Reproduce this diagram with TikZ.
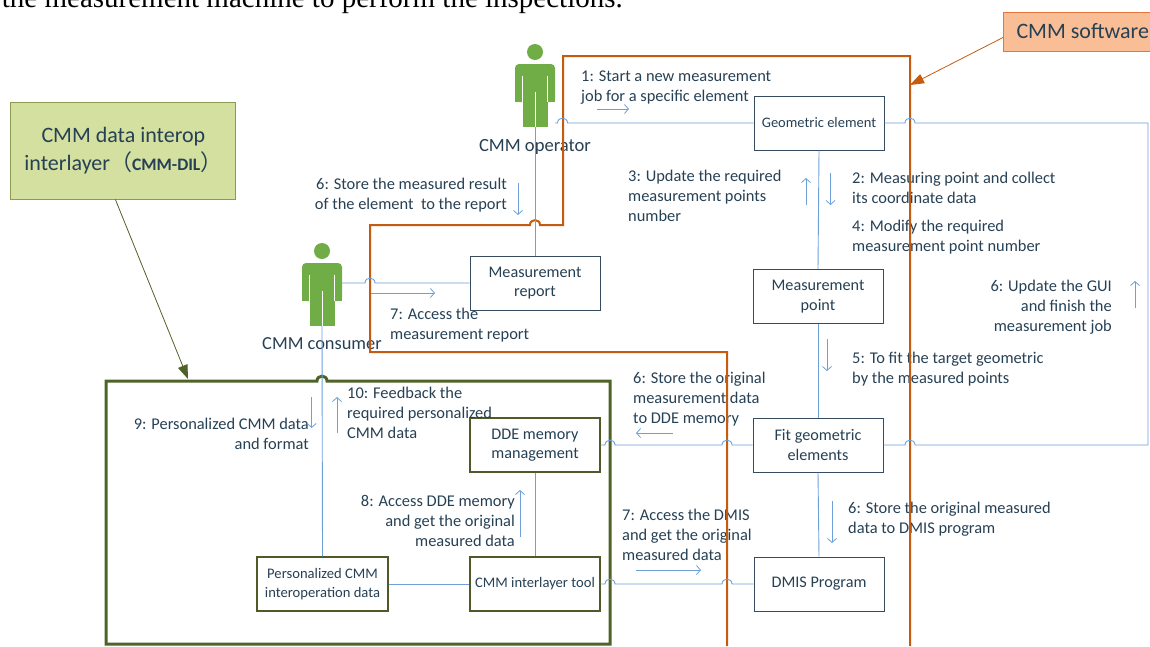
\documentclass[tikz,border=0pt]{standalone}
\usepackage{fontspec}
\setmainfont{Carlito}
\newfontfamily\BodyFont{Liberation Serif}
\newfontfamily\CjkFont{Noto Sans CJK SC}
\usepackage{tikz}
\usetikzlibrary{arrows.meta}
\usepackage{xcolor}
\definecolor{ColText}{RGB}{38,64,84}
\definecolor{ColLink}{RGB}{110,160,215}
\definecolor{ColBox}{RGB}{55,75,95}
\definecolor{ColOliveBox}{RGB}{80,90,40}
\definecolor{ColOlive}{RGB}{79,98,40}
\definecolor{ColOrange}{RGB}{197,90,17}
\definecolor{ColFig}{RGB}{112,173,71}
\definecolor{ColDil}{RGB}{211,224,160}
\definecolor{ColDilLine}{RGB}{140,155,80}
\definecolor{ColSw}{RGB}{249,190,150}
\definecolor{ColSwLine}{RGB}{228,120,60}
\tikzstyle{BoxSoft}=[rectangle,draw=ColBox,line width=1pt,fill=white,minimum width=130pt,
minimum height=54pt,inner sep=2pt,align=center,text=ColText,font=\fontsize{16.2}{19.5}\selectfont]
\tikzstyle{BoxDil}=[BoxSoft,draw=ColOliveBox,line width=1.2pt]
\tikzstyle{PersonBox}=[rectangle,minimum width=40pt,minimum height=63pt,inner sep=0pt]
\tikzstyle{Note}=[text=ColText,align=left,inner sep=0pt,font=\fontsize{16.4}{20}\selectfont]
\tikzstyle{EdgeLink}=[ColLink,line width=0.9pt]
\tikzstyle{EdgeNote}=[ColLink,line width=0.8pt,-{Straight Barb[length=4pt,width=9pt]}]
\tikzstyle{EdgePoint}=[line width=0.8pt,-{Triangle[length=14pt,width=10pt]}]
% small jumps over a crossing line
\newcommand\HopR[2]{-- (#1-5,#2) .. controls (#1-5,#2-6.5) and (#1+5,#2-6.5) .. (#1+5,#2)}
\newcommand\HopL[2]{-- (#1+5,#2) .. controls (#1+5,#2-6.5) and (#1-5,#2-6.5) .. (#1-5,#2)}
% person icon, #2,#3 = top centre of the body
\newcommand\PersonFig[3]{%
  \fill[ColFig] (#2,#3-12) circle[radius=8pt];
  \fill[ColFig,rounded corners=4pt] (#2-20,#3) rectangle (#2+20,#3+38);
  \fill[ColFig] (#2-20,#3+8) rectangle (#2+20,#3+38);
  \fill[ColFig] (#2-12.5,#3+38) rectangle (#2+12.5,#3+63);
  \draw[white,line width=1pt] (#2-12.5,#3+12) -- (#2-12.5,#3+38);
  \draw[white,line width=1pt] (#2+12.5,#3+12) -- (#2+12.5,#3+38);
  \draw[white,line width=1pt] (#2,#3+28) -- (#2,#3+63);
  \node[PersonBox](#1) at (#2,#3+31.5){};}

\begin{document}
\begin{tikzpicture}[x=1pt,y=-1pt]
    \useasboundingbox (0,0) rectangle (1150,646);
    \clip (0,0) rectangle (1150,646);
    \node[anchor=base east,inner sep=0pt,font=\BodyFont\fontsize{29}{30}\selectfont](head)
        at (623,7){the measurement machine to perform the inspections.};
    % boxes
    \node[BoxSoft,font=\fontsize{14.5}{18}\selectfont](geo)at(819,123){Geometric element};
    \node[BoxSoft](mpt)at(818,296.5){Measurement\\point};
    \node[BoxSoft](rep)at(535,283){Measurement\\report};
    \node[BoxSoft](fit)at(818,445){Fit geometric\\elements};
    \node[BoxSoft](dmis)at(819,584){DMIS Program};
    \node[BoxDil](dde)at(535,445){DDE memory\\management};
    \node[BoxDil,font=\fontsize{14.6}{18}\selectfont](tool)at(535,584){CMM interlayer tool};
    \node[BoxDil,minimum width=131pt,font=\fontsize{14.6}{19}\selectfont](pers)at(322.5,584)
        {Personalized CMM\\interoperation data};
    \node[rectangle,draw=ColDilLine,fill=ColDil,line width=1pt,minimum width=225pt,
        minimum height=97pt,align=center,text=ColText,font=\fontsize{22}{28}\selectfont]
        (dil)at(123.4,150.5){CMM data interop\\interlayer{\CjkFont （}%
        \textbf{\fontsize{17.5}{28}\selectfont CMM-DIL}{\CjkFont ）}};
    \node[rectangle,draw=ColSwLine,fill=ColSw,line width=1pt,anchor=west,minimum height=39pt,
        inner xsep=13pt,text=ColText,font=\fontsize{22}{24}\selectfont]
        (sw)at(1003,31.5){CMM software};
    % actors
    \PersonFig{oper}{535}{64}
    \PersonFig{cons}{322}{263}
    \node[Note,font=\fontsize{18.6}{20}\selectfont](operL)at(535,147){CMM operator};
    \node[Note,font=\fontsize{18.4}{20}\selectfont](consL)at(322,344){CMM consumer};
    % notes
    \node[Note,anchor=west](t1)at(581,87.5){1: Start a new measurement\\job for a specific element};
    \node[Note,anchor=east,align=right](t6a)at(507,195){6: Store the measured result\\of the element\ \ to the report};
    \node[Note,anchor=west](t3)at(628,196){3: Update the required\\measurement points\\number};
    \node[Note,anchor=west](t2)at(852,188){2: Measuring point and collect\\its coordinate data};
    \node[Note,anchor=west](t4)at(852,237){4: Modify the required\\measurement point number};
    \node[Note,anchor=east,align=right](t6b)at(1112,307){6: Update the GUI\\and finish the\\measurement job};
    \node[Note,anchor=west](t7a)at(390,325){7: Access the\\measurement report};
    \node[Note,anchor=west](t5)at(852,369.5){5: To fit the target geometric\\by the measured points};
    \node[Note,anchor=west](t6c)at(633,399){6: Store the original\\measurement data\\to DDE memory};
    \node[Note,anchor=east,align=right](t9)at(309,434){9: Personalized CMM data\\and format};
    \node[Note,anchor=west](t10)at(347,413){10: Feedback the\\required personalized\\CMM data};
    \node[Note,anchor=east,align=right](t8)at(515,521){8: Access DDE memory\\and get the original\\measured data};
    \node[Note,anchor=west](t7b)at(622,535){7: Access the DMIS\\and get the original\\measured data};
    \node[Note,anchor=west](t6d)at(848,519){6: Store the original measured\\data to DMIS program};
    % frames
    \draw[ColOrange,line width=2pt](727,646)--(727,352)--(370,352)--(370,225)\HopR{535}{225}
        --(563,225)--(563,56)--(910,56)--(910,646);
    \draw[ColOlive,line width=3pt](106,644)--(106,381)\HopR{322}{381}--(610,381)--(610,644)--cycle;
    \coordinate (dilTip) at (188,379);
    \coordinate (swTip) at (910,85);
    \draw[EdgePoint,ColOlive]([xshift=-8pt]dil.south)--(dilTip);
    \draw[EdgePoint,ColOrange]([yshift=-6pt]sw.west)--(swTip);
    % links
    \draw[EdgeLink](oper.east |- geo.west)\HopR{562.5}{123}--(geo.west);
    \draw[EdgeLink](geo.east)\HopR{910}{123}--(1148,123)--(1148,445)\HopL{910}{445}--(fit.east);
    \draw[EdgeLink](oper.south)--(rep.north);
    \draw[EdgeLink](cons.east |- rep.west)\HopR{370}{283}--(rep.west);
    \draw[EdgeLink](cons.south)--(pers.north);
    \draw[EdgeLink](geo.south)--(mpt.north);
    \draw[EdgeLink](mpt.south)--(fit.north);
    \draw[EdgeLink](fit.south)--(dmis.north);
    \draw[EdgeLink](fit.west)\HopL{727}{445}\HopL{610}{445}--(dde.east);
    \draw[EdgeLink](dmis.west)\HopL{727}{584}\HopL{610}{584}--(tool.east);
    \draw[EdgeLink](dde.south)--(tool.north);
    \draw[EdgeLink](pers.east)--(tool.west);
    % message arrows
    \draw[EdgeNote](597,109)--(629,109);
    \draw[EdgeNote](518,183)--(518,215);
    \draw[EdgeNote](806,205)--(806,178);
    \draw[EdgeNote](830.5,173)--(830.5,205);
    \draw[EdgeNote](1135,308)--(1135,281);
    \draw[EdgeNote](371,293)--(435,293);
    \draw[EdgeNote](827,339)--(827,371);
    \draw[EdgeNote](672.6,433)--(636,433);
    \draw[EdgeNote](311.6,397)--(311.6,428);
    \draw[EdgeNote](337,433)--(337,397);
    \draw[EdgeNote](520,537)--(520,490);
    \draw[EdgeNote](636,570)--(701,570);
    \draw[EdgeNote](832,501)--(832,543);
\end{tikzpicture}
\end{document}
